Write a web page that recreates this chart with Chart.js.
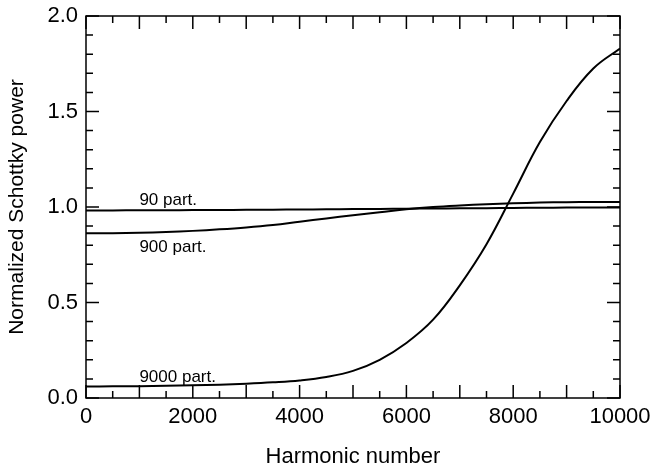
<!DOCTYPE html>
<html>
<head>
<meta charset="utf-8">
<script src="https://cdn.jsdelivr.net/npm/chart.js@4"></script>
<style>
  html, body { margin: 0; padding: 0; background: #fff; }
  #wrap { width: 652px; height: 468px; }
</style>
</head>
<body>
<div id="wrap"><canvas id="chart" width="652" height="468"></canvas></div>
<script>
// harmonic numbers sampled along the x axis
const harmonics = [0, 500, 1000, 1500, 2000, 2500, 3000, 3500, 4000, 4500, 5000,
  5500, 6000, 6500, 7000, 7500, 8000, 8500, 9000, 9500, 10000];

// normalized Schottky power
const power90 = [0.982, 0.982, 0.983, 0.983, 0.984, 0.984, 0.985, 0.986, 0.987, 0.988, 0.989,
  0.990, 0.991, 0.992, 0.993, 0.994, 0.995, 0.996, 0.997, 0.997, 0.998];
const power900 = [0.862, 0.863, 0.865, 0.869, 0.875, 0.883, 0.893, 0.906, 0.923, 0.940, 0.957,
  0.972, 0.988, 1.000, 1.008, 1.014, 1.019, 1.023, 1.025, 1.026, 1.026];
const power9000 = [0.060, 0.061, 0.062, 0.064, 0.067, 0.070, 0.075, 0.082, 0.092, 0.110, 0.142,
  0.200, 0.288, 0.410, 0.590, 0.805, 1.070, 1.340, 1.555, 1.725, 1.830];

// tick marks
const xLabelTicks = [0, 2000, 4000, 6000, 8000, 10000];
const xMajorTicks = [0, 1000, 2000, 3000, 4000, 5000, 6000, 7000, 8000, 9000, 10000];
const xMinorTicks = [500, 1500, 2500, 3500, 4500, 5500, 6500, 7500, 8500, 9500];
const yMajorTicks = [0, 0.5, 1.0, 1.5, 2.0];
const yMinorTicks = [0.1, 0.2, 0.3, 0.4, 0.6, 0.7, 0.8, 0.9, 1.1, 1.2, 1.3, 1.4, 1.6, 1.7, 1.8, 1.9];

// curve labels, anchored in data units
const curveLabels = ["90 part.", "900 part.", "9000 part."];
const labelX = [1000, 1000, 1000];
const labelY = [1.008, 0.766, 0.083];

function toPoints(ys) {
  return harmonics.map((h, i) => ({ x: h, y: ys[i] }));
}

function lineSet(ys) {
  return {
    data: toPoints(ys),
    borderColor: "#000",
    borderWidth: 2,
    pointRadius: 0,
    fill: false,
    tension: 0.4
  };
}

// box, inward ticks on all four sides, and curve labels
const framePlugin = {
  id: "frame",
  afterDatasetsDraw(chart) {
    const { ctx, chartArea: a, scales: { x, y } } = chart;
    ctx.save();
    ctx.strokeStyle = "#000";
    ctx.lineWidth = 1.5;
    ctx.strokeRect(a.left, a.top, a.right - a.left, a.bottom - a.top);

    ctx.beginPath();
    const xt = (list, len) => list.forEach(v => {
      const px = x.getPixelForValue(v);
      ctx.moveTo(px, a.bottom); ctx.lineTo(px, a.bottom - len);
      ctx.moveTo(px, a.top); ctx.lineTo(px, a.top + len);
    });
    const yt = (list, len) => list.forEach(v => {
      const py = y.getPixelForValue(v);
      ctx.moveTo(a.left, py); ctx.lineTo(a.left + len, py);
      ctx.moveTo(a.right, py); ctx.lineTo(a.right - len, py);
    });
    xt(xMajorTicks, 13);
    xt(xMinorTicks, 7);
    yt(yMajorTicks, 13);
    yt(yMinorTicks, 7);
    ctx.stroke();

    ctx.fillStyle = "#000";
    ctx.font = "17px 'Liberation Sans', Arial, sans-serif";
    ctx.textAlign = "left";
    ctx.textBaseline = "alphabetic";
    curveLabels.forEach((t, i) => {
      ctx.fillText(t, x.getPixelForValue(labelX[i]), y.getPixelForValue(labelY[i]));
    });
    ctx.restore();
  }
};

const font22 = { family: "'Liberation Sans', Arial, sans-serif", size: 22 };

new Chart(document.getElementById("chart"), {
  type: "line",
  data: {
    datasets: [lineSet(power90), lineSet(power900), lineSet(power9000)]
  },
  options: {
    responsive: false,
    animation: false,
    layout: { padding: { left: 0, right: 32, top: 16, bottom: 0 } },
    plugins: {
      legend: { display: false },
      tooltip: { enabled: false }
    },
    scales: {
      x: {
        type: "linear",
        min: 0,
        max: 10000,
        afterBuildTicks: s => { s.ticks = xLabelTicks.map(v => ({ value: v })); },
        afterFit: s => { s.height = 70; s.paddingLeft = 0; s.paddingRight = 0; },
        grid: { display: false, drawTicks: false },
        border: { display: false },
        ticks: { color: "#000", font: font22, padding: 6, maxRotation: 0, callback: v => String(v) },
        title: {
          display: true,
          text: "Harmonic number",
          color: "#000",
          font: { ...font22, lineHeight: 1 },
          padding: 0
        }
      },
      y: {
        min: 0,
        max: 2,
        afterBuildTicks: s => { s.ticks = yMajorTicks.map(v => ({ value: v })); },
        afterFit: s => { s.width = 86; s.paddingTop = 0; s.paddingBottom = 0; },
        grid: { display: false, drawTicks: false },
        border: { display: false },
        ticks: { color: "#000", font: font22, padding: 8, callback: v => v.toFixed(1) },
        title: {
          display: true,
          text: "Normalized Schottky power",
          color: "#000",
          font: { ...font22, size: 21 },
          padding: { top: 5, bottom: 0 }
        }
      }
    }
  },
  plugins: [framePlugin]
});
</script>
</body>
</html>
